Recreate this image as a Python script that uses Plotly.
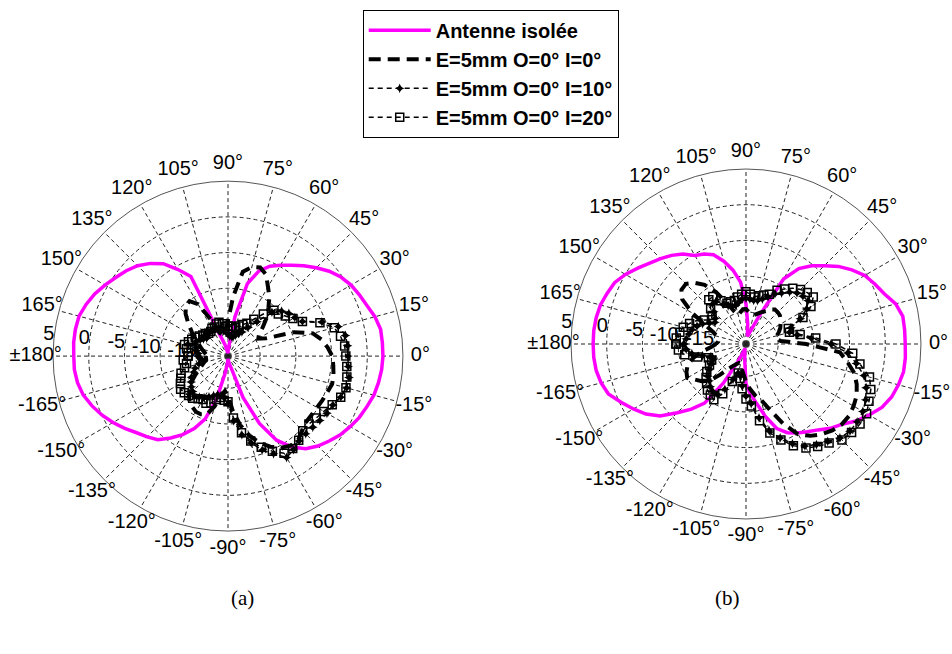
import plotly.graph_objects as go

# ---------------- data ----------------
angles = list(range(-180, 181, 5))  # degrees

# (a)
iso_a = [2.1, 2.1, 1.9, 1.5, 0.8, 0.0, -0.9, -1.85, -2.8, -3.5, -4.2, -5.5, -6.8, -8.3, -10.1, -13.2, -16.9, -18.4,
         -19.1, -18.9, -18.4, -17.8, -13.3, -9.1, -5.9, -3.95, -2.55, -1.7, -1.0, -0.3, 0.25, 0.8, 1.2, 1.65, 1.9, 2.1,
         2.2, 2.2, 2.2, 1.8, 1.2, 0.8, 0.4, -0.2, -1.0, -2.0, -3.0, -3.95, -4.8, -5.6, -6.8, -9.0, -13.9, -18.1,
         -18.9, -18.9, -18.7, -17.8, -16.7, -7.2, -5.5, -3.7, -2.55, -1.6, -0.9, -0.3, 0.4, 1.1, 1.65, 2.1, 2.2, 2.2, 2.1]
i0_a = [-16.4, -16.4, -16.4, -16.0, -15.6, -15.0, -14.2, -13.3, -12.5, -11.8, -11.1, -10.8, -10.5, -10.5, -10.8, -12.2,
        -13.9, -14.6, -13.9, -11.8, -9.7, -8.0, -6.6, -5.5, -4.7, -4.2, -4.2, -4.8, -5.2, -5.2, -5.1, -4.9, -4.7, -4.4,
        -4.5, -4.7, -4.9, -5.5, -6.2, -7.2, -9.7, -13.6, -14.6, -14.2, -13.1, -11.8, -10.7, -9.4, -8.3, -6.9, -6.3,
        -6.6, -7.5, -11.1, -14.5, -16.0, -16.4, -16.4, -16.0, -13.9, -11.1, -10.1, -10.3, -11.1, -12.2, -13.2, -13.9,
        -14.6, -15.3, -15.7, -16.1, -16.4, -16.4]
i10_a = [-15.3, -15.6, -15.9, -15.3, -14.6, -14.2, -13.6, -13.2, -12.8, -12.5, -12.2, -12.5, -12.8, -13.2, -13.6, -13.9,
         -13.9, -13.6, -12.8, -10.4, -8.3, -6.9, -5.5, -4.4, -3.1, -3.5, -4.0, -4.1, -4.0, -3.8, -3.5, -3.3, -2.7, -2.3,
         -2.3, -2.6, -2.7, -2.7, -2.8, -3.5, -5.5, -8.0, -8.7, -9.1, -9.7, -10.8, -13.2, -14.6, -15.6, -16.0, -16.4,
         -16.7, -16.7, -16.7, -16.4, -16.1, -15.9, -15.6, -15.6, -15.3, -15.3, -15.3, -15.0, -15.3, -15.6, -15.3, -15.0,
         -14.6, -14.6, -14.9, -15.0, -15.3, -15.3]
i20_a = [-13.9, -13.2, -13.6, -13.2, -12.5, -12.2, -11.8, -11.4, -11.5, -11.7, -11.8, -12.2, -12.5, -12.2, -12.5, -13.2,
         -13.6, -13.3, -13.1, -10.8, -8.6, -7.2, -5.9, -4.8, -3.8, -3.7, -4.1, -4.7, -4.7, -4.4, -4.0, -3.4, -2.7, -2.4,
         -2.6, -2.8, -3.0, -3.1, -3.5, -4.1, -5.8, -8.0, -9.0, -9.7, -10.3, -10.4, -11.8, -13.2, -14.2, -14.6, -15.0,
         -15.3, -15.6, -15.3, -15.3, -15.3, -14.9, -14.6, -14.7, -15.0, -15.0, -15.3, -15.3, -15.0, -14.9, -14.6, -14.2,
         -13.9, -13.6, -13.2, -13.6, -13.9, -13.9]

# (b)
iso_b = [1.9, 1.9, 1.8, 1.5, 1.0, -0.2, -1.3, -2.4, -3.8, -5.9, -7.6, -9.4, -13.2, -16.7, -18.1, -18.7, -18.7, -17.4,
         -13.9, -12.5, -11.1, -9.0, -6.9, -5.8, -5.1, -4.5, -3.8, -2.8, -2.0, -0.7, 0.4, 1.5, 2.2, 2.6, 2.9, 2.9,
         2.8, 2.8, 2.8, 2.2, 1.1, 0.4, -0.3, -1.4, -2.6, -4.0, -5.2, -6.6, -9.0, -15.3, -17.4, -18.1, -18.4, -16.7,
         -13.9, -10.8, -9.0, -7.5, -6.2, -5.6, -5.2, -4.1, -3.3, -2.6, -1.9, -1.0, 0.0, 0.8, 1.2, 1.6, 1.8, 1.9, 1.9]
i0_b = [-15.3, -14.6, -13.2, -11.8, -10.8, -10.3, -10.0, -10.8, -11.4, -12.2, -13.9, -15.3, -16.0, -16.4, -16.7, -16.7,
        -16.0, -15.3, -14.2, -13.2, -12.2, -11.4, -9.7, -7.2, -4.9, -3.8, -3.0, -2.4, -2.0, -1.9, -2.1, -2.4, -3.0,
        -3.8, -5.1, -6.3, -11.1, -14.6, -15.3, -15.0, -14.6, -14.2, -13.9, -13.6, -13.3, -13.2, -13.2, -13.6, -14.2,
        -14.6, -15.0, -15.3, -15.3, -15.0, -14.6, -14.6, -15.0, -15.3, -14.6, -13.2, -11.1, -9.4, -8.3, -7.6, -7.7,
        -8.6, -10.8, -13.2, -14.6, -15.3, -15.6, -15.6, -15.3]
i10_b = [-10.8, -11.1, -11.8, -13.2, -14.2, -14.5, -13.9, -13.2, -12.5, -12.2, -11.7, -11.4, -11.4, -12.5, -14.2, -15.3,
         -15.0, -13.6, -12.2, -11.1, -9.0, -6.9, -5.5, -4.1, -3.0, -2.3, -1.7, -0.9, -0.5, -0.5, -0.6, -1.0, -1.6, -2.4,
         -3.8, -5.2, -7.6, -10.3, -12.2, -13.2, -12.8, -11.1, -9.7, -8.9, -9.1, -9.4, -10.0, -10.8, -11.4, -12.2, -12.8,
         -13.2, -13.3, -13.2, -13.1, -13.2, -13.6, -13.9, -13.9, -13.6, -13.1, -12.2, -12.2, -13.1, -13.9, -14.2, -13.6,
         -12.8, -12.2, -11.7, -11.4, -11.1, -10.8]
i20_b = [-9.7, -10.0, -10.8, -12.5, -13.9, -14.2, -13.6, -12.8, -12.2, -11.7, -11.1, -10.8, -10.5, -11.8, -13.9, -15.3,
         -14.6, -13.2, -11.8, -10.8, -8.6, -6.6, -5.2, -3.8, -2.7, -2.0, -1.4, -0.5, -0.2, 0.0, 0.0, -0.5, -0.9, -1.6,
         -3.3, -4.5, -6.9, -9.7, -11.8, -13.2, -13.2, -10.7, -9.0, -8.0, -8.3, -8.7, -9.3, -10.1, -10.8, -11.8, -12.2,
         -12.5, -12.8, -12.5, -12.2, -12.5, -12.8, -13.2, -13.2, -13.2, -12.5, -11.4, -11.4, -12.5, -13.3, -13.6, -12.8,
         -11.8, -11.1, -10.4, -10.1, -9.7, -9.7]

series_names = ["Antenne isolée", "E=5mm O=0° I=0°", "E=5mm O=0° I=10°", "E=5mm O=0° I=20°"]
panel_labels = ["(a)", "(b)"]

angle_ticks = list(range(0, 360, 15))
angle_labels = ["0°", "15°", "30°", "45°", "60°", "75°", "90°", "105°", "120°", "135°", "150°", "165°",
                "±180°", "-165°", "-150°", "-135°", "-120°", "-105°", "-90°", "-75°", "-60°", "-45°", "-30°", "-15°"]
radial_ticks = [-15, -10, -5, 0, 5]
radial_labels = ["-15", "-10", "-5", "0", "5"]
r_min, r_max = -19.5, 5
label_r = r_max + 0.1 * (r_max - r_min)   # angle labels at 1.1 x outer radius (as MATLAB polar)
r_ext = 8.0                               # range of the transparent overlay that carries those labels
radial_label_theta = 173

# ---------------- figure ----------------
styles = [
    dict(mode="lines", line=dict(color="#ff00ff", width=3.5)),
    dict(mode="lines", line=dict(color="black", width=4, dash="12px,7px")),
    dict(mode="lines+markers", line=dict(color="black", width=1.5, dash="5px,4px"),
         marker=dict(symbol="star-diamond", size=7, color="black")),
    dict(mode="lines+markers", line=dict(color="black", width=1.5, dash="5px,4px"),
         marker=dict(symbol="square-open", size=8, color="black", line=dict(width=1.5, color="black"))),
]
label_font = dict(family="Liberation Sans, Arial, sans-serif", size=20, color="black")

base_domains = [(0.0557, 0.4233, 0.188, 0.723), (0.5998, 0.9674, 0.2064, 0.7416)]
scale = (r_ext - r_min) / (r_max - r_min)


def grown(d):
    x0, x1, y0, y1 = d
    cx, cy, hx, hy = (x0 + x1) / 2, (y0 + y1) / 2, (x1 - x0) / 2 * scale, (y1 - y0) / 2 * scale
    return dict(x=[cx - hx, cx + hx], y=[cy - hy, cy + hy])


fig = go.Figure()
panels = [([iso_a, i0_a, i10_a, i20_a], "polar", "polar3"), ([iso_b, i0_b, i10_b, i20_b], "polar2", "polar4")]
for p, (data, pol, over) in enumerate(panels):
    for k, vals in enumerate(data):
        fig.add_trace(go.Scatterpolar(r=vals, theta=angles, name=series_names[k], subplot=pol,
                                      showlegend=(p == 0), **styles[k]))
    # radial (dB) labels, right-aligned on their rings just above the 180° spoke
    fig.add_trace(go.Scatterpolar(r=radial_ticks, theta=[radial_label_theta] * len(radial_ticks),
                                  text=radial_labels, mode="text", textposition="middle left", textfont=label_font,
                                  cliponaxis=False, showlegend=False, hoverinfo="skip", subplot=pol))
    # angle labels, centred at 1.1 x the outer radius (drawn on a same-scale transparent overlay)
    fig.add_trace(go.Scatterpolar(r=[label_r] * len(angle_ticks), theta=angle_ticks, text=angle_labels,
                                  mode="text", textposition="middle center", textfont=label_font,
                                  cliponaxis=False, showlegend=False, hoverinfo="skip", subplot=over))

polar_common = dict(
    bgcolor="white",
    angularaxis=dict(rotation=0, direction="counterclockwise", tickmode="array", tickvals=angle_ticks,
                     showticklabels=False, ticks="", showline=True, linecolor="#555555", linewidth=1,
                     gridcolor="#222222", griddash="4px,3px", gridwidth=0.9),
    radialaxis=dict(range=[r_min, r_max], tickmode="array", tickvals=radial_ticks, ticks="", showline=False,
                    showticklabels=False, gridcolor="#222222", griddash="4px,3px", gridwidth=0.9, angle=180),
)
overlay_common = dict(
    bgcolor="rgba(0,0,0,0)",
    angularaxis=dict(rotation=0, direction="counterclockwise", visible=False),
    radialaxis=dict(range=[r_min, r_ext], visible=False),
)

fig.update_layout(
    width=952, height=654,
    margin=dict(l=0, r=0, t=0, b=0),
    paper_bgcolor="white",
    polar=dict(domain=dict(x=list(base_domains[0][:2]), y=list(base_domains[0][2:])), **polar_common),
    polar2=dict(domain=dict(x=list(base_domains[1][:2]), y=list(base_domains[1][2:])), **polar_common),
    polar3=dict(domain=grown(base_domains[0]), **overlay_common),
    polar4=dict(domain=grown(base_domains[1]), **overlay_common),
    showlegend=True,
    legend=dict(x=0.381, y=0.985, xanchor="left", yanchor="top", bgcolor="white", bordercolor="black",
                borderwidth=1, itemwidth=62,
                font=dict(family="Liberation Sans, Arial, sans-serif", size=20, color="black", weight="bold")),
    annotations=[
        dict(text=panel_labels[0], x=0.2405, y=0.064, xref="paper", yref="paper", showarrow=False,
             font=dict(family="Liberation Serif, Times New Roman, serif", size=21, color="black")),
        dict(text=panel_labels[1], x=0.779, y=0.064, xref="paper", yref="paper", showarrow=False,
             font=dict(family="Liberation Serif, Times New Roman, serif", size=21, color="black")),
    ],
)

fig.write_html("out.html", config={"displayModeBar": False})

# remove the default page margin so the figure sits at the window's top-left corner
with open("out.html", "r", encoding="utf-8") as fh:
    html = fh.read()
html = html.replace("<head>", "<head><style>html,body{margin:0;padding:0;overflow:hidden;}</style>", 1)
with open("out.html", "w", encoding="utf-8") as fh:
    fh.write(html)
